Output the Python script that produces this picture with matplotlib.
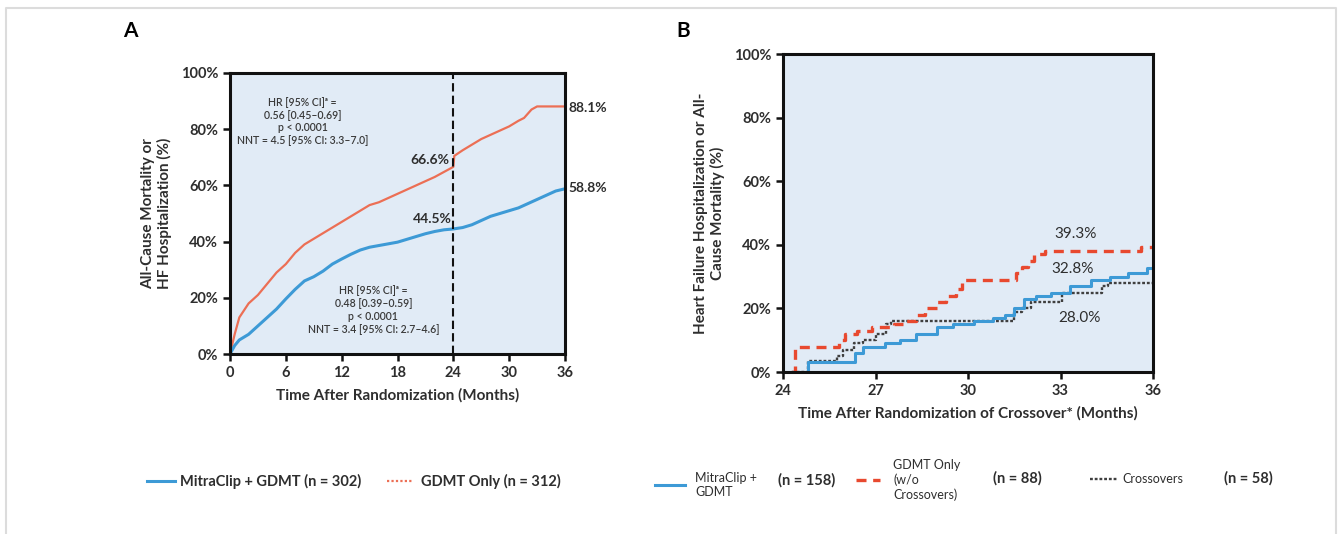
import matplotlib
matplotlib.use("Agg")
import matplotlib.pyplot as plt
from matplotlib.lines import Line2D

plt.rcParams['font.family'] = ['Lato', 'DejaVu Sans']

W, H = 1338, 534

# Panel A: Kaplan-Meier estimates (months, %)
mitra_a_t = [0, 0.5, 1, 2, 3, 4, 5, 6, 7, 8, 9, 10, 11, 12, 13, 14, 15, 16, 17, 18,
             19, 20, 21, 22, 23, 24, 25, 26, 27, 28, 29, 30, 31, 32, 33, 34, 35, 36]
mitra_a = [0, 3, 5, 7, 10, 13, 16, 19.6, 23, 26, 27.5, 29.5, 32, 33.8, 35.5, 37, 38, 38.6,
           39.2, 39.8, 40.8, 41.8, 42.8, 43.6, 44.2, 44.5, 45, 46, 47.5, 49, 50, 51, 52,
           53.5, 55, 56.5, 58, 58.8]
gdmt_a_t = [0, 0.5, 1, 2, 3, 4, 5, 6, 7, 8, 9, 10, 11, 12, 13, 14, 15, 16, 17, 18, 19,
            20, 21, 22, 23, 24, 24.1, 25, 26, 27, 28, 29, 30, 31, 31.6, 32.4, 33, 34, 35, 36]
gdmt_a = [0, 7, 13, 18, 21, 25, 29, 32, 36, 39, 41, 43, 45, 47, 49, 51, 53, 54, 55.5, 57,
          58.5, 60, 61.5, 63, 64.8, 66.6, 70.5, 72.5, 74.5, 76.5, 78, 79.5, 81, 83, 84,
          87, 88.1, 88.1, 88.1, 88.1]

# Panel B: step curves after crossover (months, %)
mitra_b_t = [24.55, 24.8, 26.2, 26.35, 26.6, 27.3, 27.8, 28.3, 29.0, 29.5, 30.2, 30.8,
             31.2, 31.5, 31.8, 32.2, 32.7, 33.3, 34.0, 34.6, 35.2, 35.8, 36.0]
mitra_b = [0, 3, 3, 6, 8, 9, 10, 12, 14, 15, 16, 17, 18, 20, 23, 24, 25, 27, 29, 30, 31,
           32.8, 32.8]
gdmt_b_t = [24.25, 24.4, 25.8, 26.0, 26.4, 26.9, 27.6, 28.0, 28.3, 28.6, 29.0, 29.3,
            29.6, 29.8, 31.4, 31.55, 31.75, 31.95, 32.15, 32.5, 35.6, 36.0]
gdmt_b = [0, 8, 10, 12, 13, 14, 15, 16, 18, 20, 22, 24, 26, 29, 29, 31, 33, 35, 37, 38,
          39.3, 39.3]
cross_b_t = [24.3, 24.8, 25.75, 25.95, 26.3, 26.6, 27.0, 27.35, 27.5, 31.5, 31.75, 32.05,
             33.05, 34.35, 34.55, 36.0]
cross_b = [0, 3.5, 5, 7, 9, 10, 12, 15, 16, 19, 20, 22, 25, 27, 28, 28]

xticks_a = [0, 6, 12, 18, 24, 30, 36]
xticks_b = [24, 27, 30, 33, 36]
yticks = [0, 20, 40, 60, 80, 100]

BLUE = '#3d9ad6'
ORANGE = '#ec6f55'
RED = '#e8492f'
GRAY = '#3f3f3f'
BG = '#e1ebf6'
TXT = '#2e2e2e'


def rect(x0, y0, x1, y1):
    return [x0 / W, 1 - y1 / H, (x1 - x0) / W, (y1 - y0) / H]


def fp(x, y):
    return x / W, 1 - y / H


def style_axes(ax, xticks, xlim):
    ax.set_facecolor(BG)
    ax.set_xlim(*xlim)
    ax.set_ylim(0, 100)
    ax.set_xticks(xticks)
    ax.set_yticks(yticks)
    ax.set_yticklabels([f'{v}%' for v in yticks])
    for s in ax.spines.values():
        s.set_linewidth(2.2)
        s.set_color('#111111')
    ax.tick_params(direction='out', length=5, width=1.8, colors='#111111',
                   labelsize=10.5, labelcolor=TXT)
    for lab in ax.get_xticklabels() + ax.get_yticklabels():
        lab.set_fontweight('bold')


def fline(xs, ys, **kw):
    fig.add_artist(Line2D([x / W for x in xs], [1 - y / H for y in ys],
                          transform=fig.transFigure, **kw))


fig = plt.figure(figsize=(W / 100, H / 100), dpi=100)
# light frame (open at the bottom)
fline([6, 6, 1336, 1336], [534, 8, 8, 534], color='#dcdcdc', lw=1.5)

# ---- Panel A ----
axa = fig.add_axes(rect(230, 73, 565, 354))
style_axes(axa, xticks_a, (0, 36))
axa.plot(gdmt_a_t, gdmt_a, color=ORANGE, lw=1.6)
axa.plot(mitra_a_t, mitra_a, color=BLUE, lw=2.2)
axa.axvline(24, color='#111111', lw=1.5, ls=(0, (4, 2)))
axa.set_xlabel('Time After Randomization (Months)', fontsize=11, fontweight='bold',
               color=TXT, labelpad=6)
axa.set_ylabel('All-Cause Mortality or\nHF Hospitalization (%)', fontsize=11,
               fontweight='bold', color=TXT, labelpad=6)
note_kw = dict(ha='center', va='top', fontsize=7.6, color='#3a3a3a', linespacing=1.2,
               fontweight='semibold')
axa.text(7.8, 91.5, 'HR [95% CI]\u1d43 =\n0.56 [0.45\u20130.69]\np < 0.0001\n'
         'NNT = 4.5 [95% CI: 3.3\u20137.0]', **note_kw)
axa.text(15.4, 24.5, 'HR [95% CI]\u1d43 =\n0.48 [0.39\u20130.59]\np < 0.0001\n'
         'NNT = 3.4 [95% CI: 2.7\u20134.6]', **note_kw)
axa.text(23.6, 69, '66.6%', ha='right', va='center', fontsize=10, fontweight='bold', color=TXT)
axa.text(23.8, 48, '44.5%', ha='right', va='center', fontsize=10, fontweight='bold', color=TXT)
axa.text(36.4, 87.5, '88.1%', ha='left', va='center', fontsize=10, fontweight='bold',
         color=TXT, clip_on=False)
axa.text(36.4, 59, '58.8%', ha='left', va='center', fontsize=10, fontweight='bold',
         color=TXT, clip_on=False)
fig.text(*fp(130, 31), 'A', fontsize=15, fontweight='bold', ha='center', va='center')

# ---- Panel B ----
axb = fig.add_axes(rect(783, 54, 1153, 372))
style_axes(axb, xticks_b, (24, 36))
axb.plot(cross_b_t, cross_b, color=GRAY, lw=1.7, ls=(0, (1.2, 0.8)), drawstyle='steps-post')
axb.plot(mitra_b_t, mitra_b, color=BLUE, lw=2.2, drawstyle='steps-post')
axb.plot(gdmt_b_t, gdmt_b, color=RED, lw=2.4, ls=(0, (3, 2)), drawstyle='steps-post')
axb.set_xlabel('Time After Randomization of Crossover* (Months)', fontsize=11,
               fontweight='bold', color=TXT, labelpad=6)
axb.set_ylabel('Heart Failure Hospitalization or All-\nCause Mortality (%)', fontsize=11,
               fontweight='bold', color=TXT, labelpad=6)
axb.text(33.5, 43.5, '39.3%', ha='center', va='center', fontsize=11, color=TXT)
axb.text(33.4, 32.5, '32.8%', ha='center', va='center', fontsize=11, color=TXT)
axb.text(33.6, 17, '28.0%', ha='center', va='center', fontsize=11, color=TXT)
fig.text(*fp(683, 31), 'B', fontsize=15, fontweight='bold', ha='center', va='center')

# ---- Legends ----
fline([147, 175], [481, 481], color=BLUE, lw=2.2)
fig.text(*fp(180, 481), 'MitraClip + GDMT (n = 302)', fontsize=10.5, fontweight='bold',
         color=TXT, va='center')
fline([387, 412], [481, 481], color=ORANGE, lw=1.6, ls=(0, (1, 1)))
fig.text(*fp(421, 481), 'GDMT Only (n = 312)', fontsize=10.5, fontweight='bold',
         color=TXT, va='center')

fline([655, 685], [485, 485], color=BLUE, lw=2.2)
fig.text(*fp(695, 485), 'MitraClip +\nGDMT', fontsize=9, color=TXT, va='center',
         linespacing=1.25)
fig.text(*fp(778, 480), '(n = 158)', fontsize=10.5, fontweight='bold', color=TXT,
         va='center')
fline([856, 880], [480, 480], color=RED, lw=2.4, ls=(0, (3, 2)))
fig.text(*fp(893, 480), 'GDMT Only\n(w/o\nCrossovers)', fontsize=9, color=TXT,
         va='center', linespacing=1.25)
fig.text(*fp(993, 478), '(n = 88)', fontsize=10.5, fontweight='bold', color=TXT,
         va='center')
fline([1090, 1118], [479, 479], color=GRAY, lw=1.7, ls=(0, (1.2, 0.8)))
fig.text(*fp(1122, 479), 'Crossovers', fontsize=9, color=TXT, va='center')
fig.text(*fp(1224, 478), '(n = 58)', fontsize=10.5, fontweight='bold', color=TXT,
         va='center')

fig.savefig('out.png', dpi=100)
